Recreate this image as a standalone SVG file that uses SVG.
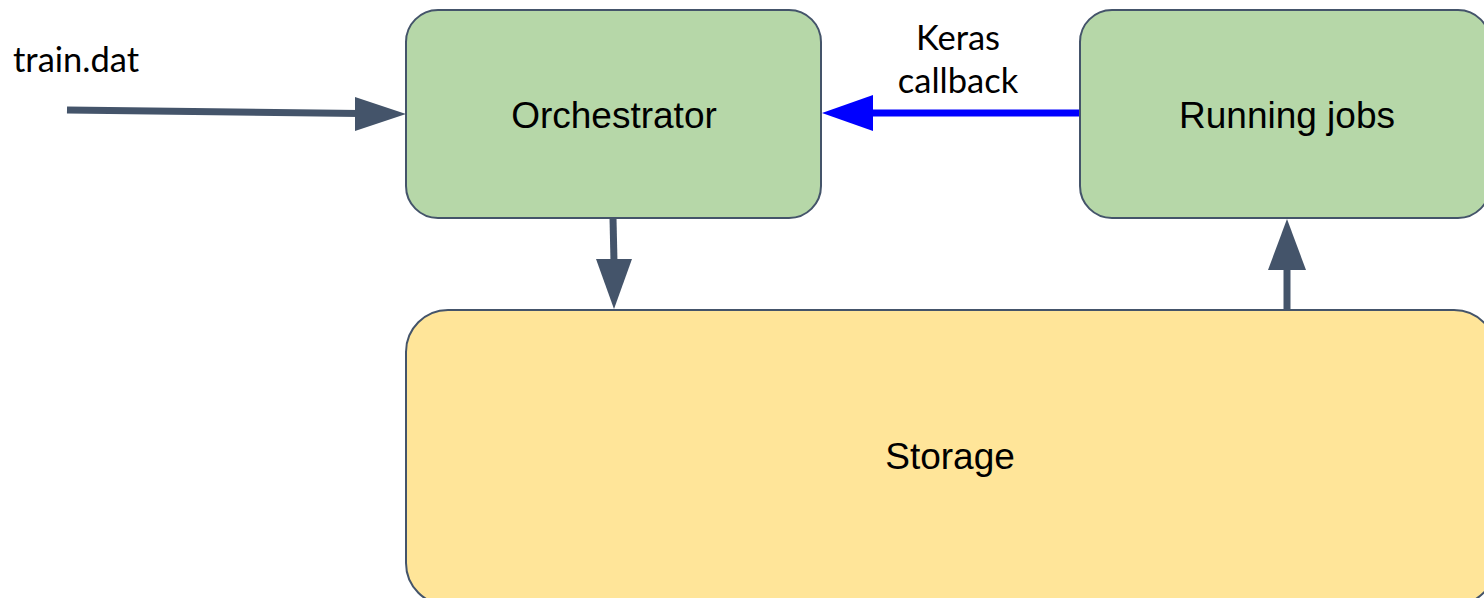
<svg xmlns="http://www.w3.org/2000/svg" width="1484" height="598" viewBox="0 0 1484 598">
<style>
.box{stroke:#44546a;stroke-width:2}
.g{fill:#b6d7a8}
.y{fill:#ffe599}
.lbl{font-family:"Liberation Sans",Arial,sans-serif;font-size:37px;fill:#000;text-anchor:middle}
.cal{font-family:Lato,"Open Sans",sans-serif;font-size:34.5px;fill:#000}
.conn{stroke:#44546a;stroke-width:7;fill:none}
</style>
<rect width="1484" height="598" fill="#fff"/>
<g id="connectors">
<line class="conn" x1="67" y1="110" x2="360" y2="113.5"/>
<polygon points="355,97 406,114 355,131" fill="#44546a"/>
<line x1="1080" y1="113" x2="868" y2="113" stroke="#0000ff" stroke-width="7"/>
<polygon points="873,95 822,113 873,131" fill="#0000ff"/>
<line class="conn" x1="613" y1="218" x2="614" y2="262" stroke-width="8"/>
<polygon points="596,259 632,259 614,309" fill="#44546a"/>
<line class="conn" x1="1287" y1="310" x2="1287" y2="266" stroke-width="8"/>
<polygon points="1268,270 1306,270 1287,219" fill="#44546a"/>
</g>
<g id="orchestrator">
<rect class="box g" x="406" y="10" width="415" height="208" rx="32"/>
<text class="lbl" x="614" y="128">Orchestrator</text>
</g>
<g id="running-jobs">
<rect class="box g" x="1080" y="10" width="410" height="208" rx="32"/>
<text class="lbl" x="1287" y="128">Running jobs</text>
</g>
<g id="storage">
<rect class="box y" x="406" y="310" width="1090" height="295" rx="42"/>
<text class="lbl" x="950" y="469">Storage</text>
</g>
<text class="cal" x="13" y="72">train.dat</text>
<text class="cal" x="958" y="50" text-anchor="middle">Keras</text>
<text class="cal" x="958" y="93" text-anchor="middle">callback</text>
</svg>
